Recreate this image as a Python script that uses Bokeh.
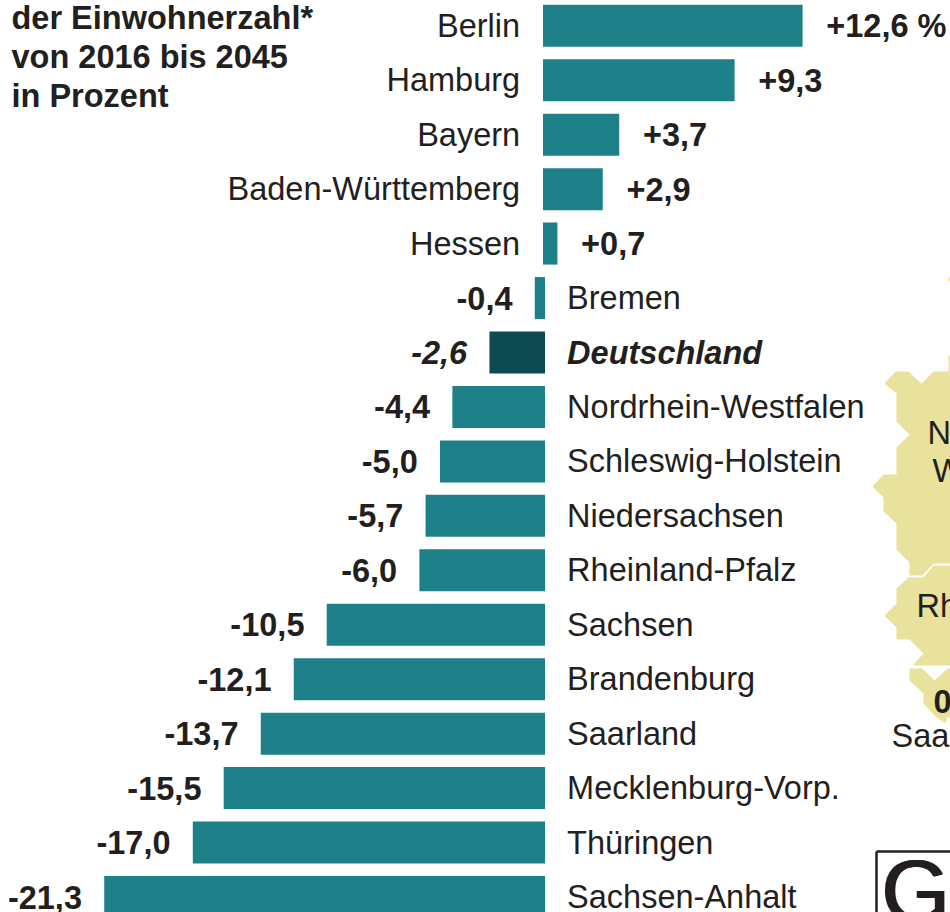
from bokeh.plotting import figure
from bokeh.models import ColumnDataSource, Range1d
from bokeh.core.properties import value
from bokeh.embed import file_html
from bokeh.resources import INLINE

states = ["Berlin","Hamburg","Bayern","Baden-Württemberg","Hessen","Bremen","Deutschland",
          "Nordrhein-Westfalen","Schleswig-Holstein","Niedersachsen","Rheinland-Pfalz","Sachsen",
          "Brandenburg","Saarland","Mecklenburg-Vorp.","Thüringen","Sachsen-Anhalt"]
changes = [12.6,9.3,3.7,2.9,0.7,-0.4,-2.6,-4.4,-5.0,-5.7,-6.0,-10.5,-12.1,-13.7,-15.5,-17.0,-21.3]
labels = ["+12,6 %","+9,3","+3,7","+2,9","+0,7","-0,4","-2,6","-4,4","-5,0","-5,7","-6,0",
          "-10,5","-12,1","-13,7","-15,5","-17,0","-21,3"]
title_lines = ["der Einwohnerzahl*","von 2016 bis 2045","in Prozent"]

TEAL = "#1e8088"; DARK = "#0e4a52"; MAP = "#e8e29c"; INK = "#231f20"
FONT = value("Liberation Sans")
FS = "32.5px"
W, H = 950, 912
X0, PXU = 542.5, 20.6
Y0, PITCH = 25.3, 54.45

p = figure(width=W, height=H, output_backend="svg", toolbar_location=None,
           x_range=Range1d(-X0/PXU, (W-X0)/PXU),
           y_range=Range1d((H-Y0)/PITCH, -Y0/PITCH),
           min_border=0, outline_line_color=None, background_fill_color="white")
p.axis.visible = False
p.grid.visible = False
p.styles = {"position": "absolute", "left": "0px", "top": "0px"}

def px(x): return (x - X0)/PXU
def py(y): return (y - Y0)/PITCH

# decorative map fragments, in pixels of the picture
nrw = [(948,355),(948,371),(933,371),(921,383),(908,371),(895,371),(884,383),(896,393),(896,421),
       (909,434),(896,447),(896,474),(883,474),(872,486),(883,497),(883,511),(896,523),(896,549),
       (909,562),(909,575),(922,575),(933,563),(950,563),(950,355)]
rlp = [(950,565),(933,565),(923,577),(908,577),(896,588),(896,603),(884,615),(896,627),(896,639),
       (909,639),(923,653),(912,665),(950,665)]
saar = [(909,668),(922,668),(934,680),(947,668),(950,668),(950,717),(946,717),(946,723),(936,717),
        (923,703),(923,693),(909,680)]
speck = [(948,277),(950,277),(950,281),(948,281)]
for poly in (nrw, rlp, saar, speck):
    p.patch([px(a) for a, b in poly], [py(b) for a, b in poly], fill_color=MAP, line_color=None)

OVER = 2/PXU   # negative bars reach two pixels past the zero line
src = ColumnDataSource(dict(
    y=list(range(len(states))),
    right=[c if c > 0 else OVER for c in changes],
    left=[0 if c > 0 else c for c in changes],
    color=[DARK if s == "Deutschland" else TEAL for s in states],
    state=states, lab=labels,
    name_x=[-1.11 if c > 0 else 1.17 for c in changes],
    name_align=["right" if c > 0 else "left" for c in changes],
    val_x=[c + 1.15 if c > 0 else c - 1.08 for c in changes],
    val_align=["left" if c > 0 else "right" for c in changes],
    name_style=["bold italic" if s == "Deutschland" else "normal" for s in states],
    val_style=["bold italic" if s == "Deutschland" else "bold" for s in states],
))
p.hbar(y="y", left="left", right="right", height=42/PITCH, fill_color="color", line_color=None, source=src)
p.text(x="name_x", y="y", text="state", text_align="name_align", text_baseline="middle",
       text_font=FONT, text_font_size=FS, text_color=INK, text_font_style="name_style", source=src)
p.text(x="val_x", y="y", text="lab", text_align="val_align", text_baseline="middle",
       text_font=FONT, text_font_size=FS, text_color=INK, text_font_style="val_style", source=src)

p.text(x=[px(11)]*3, y=[py(17), py(56), py(95)], text=title_lines, text_align="left", text_baseline="middle",
       text_font=FONT, text_font_size=FS, text_font_style="bold", text_color=INK)

# cut-off map labels at the right edge
p.text(x=[px(927), px(932), px(916), px(891)], y=[py(432), py(470), py(605), py(735)],
       text=["N", "W", "Rh", "Saa"], text_baseline="middle", text_font=FONT, text_font_size=FS,
       text_color=INK)
p.text(x=[px(933)], y=[py(701)], text=["0"], text_baseline="middle", text_font=FONT,
       text_font_size=FS, text_font_style="bold", text_color=INK)

# logo box
p.line([px(876), px(876)], [py(912), py(851)], line_color=INK, line_width=2.5)
p.line([px(876), px(950)], [py(851), py(851)], line_color=INK, line_width=2.5)
p.text(x=[px(880), px(881), px(882)], y=[py(890)]*3, text=["G"]*3, text_baseline="middle", text_font=FONT,
       text_font_size="88px", text_color=INK)

open("out.html", "w").write(file_html(p, INLINE))
